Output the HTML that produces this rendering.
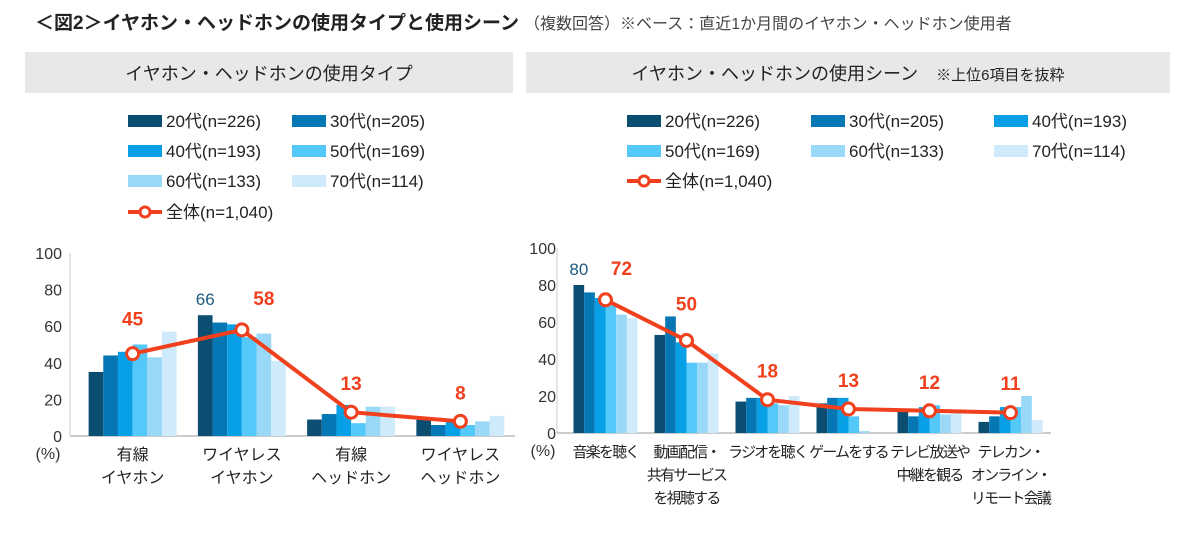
<!DOCTYPE html>
<html><head><meta charset="utf-8">
<style>
body{margin:0;background:#fff;width:1200px;height:532px;overflow:hidden;font-family:"Liberation Sans","Noto Sans CJK JP",sans-serif;}
svg text{font-family:"Liberation Sans","Noto Sans CJK JP",sans-serif;}
</style></head>
<body>
<svg id="c" width="1200" height="532" xmlns="http://www.w3.org/2000/svg">
<text x="35" y="29" font-size="19" font-weight="bold" fill="#222">＜図2＞イヤホン・ヘッドホンの使用タイプと使用シーン</text>
<text x="524" y="29" font-size="16" fill="#444">（複数回答）※ベース：直近1か月間のイヤホン・ヘッドホン使用者</text>
<rect x="25" y="52" width="488" height="41" fill="#e8e8ea"/>
<text x="269" y="80" font-size="18" text-anchor="middle" fill="#222">イヤホン・ヘッドホンの使用タイプ</text>
<rect x="526" y="52" width="644" height="41" fill="#e8e8ea"/>
<text x="848" y="80" font-size="18" text-anchor="middle" fill="#222">イヤホン・ヘッドホンの使用シーン　<tspan font-size="15">※上位6項目を抜粋</tspan></text>
<g id="g"></g>
</svg>
<script>
const ages=["20代(n=226)","30代(n=205)","40代(n=193)","50代(n=169)","60代(n=133)","70代(n=114)"];
const totalLabel="全体(n=1,040)";
const colors=["#0b4e72","#0677b5","#07a0e6","#55c8fa","#99d8f7","#cfeafa"];
const yTicks=[0,20,40,60,80,100];
const leftCats=[["有線","イヤホン"],["ワイヤレス","イヤホン"],["有線","ヘッドホン"],["ワイヤレス","ヘッドホン"]];
const leftS20=[35,66,9,9];
const leftS30=[44,62,12,6];
const leftS40=[46,61,17,8];
const leftS50=[50,54,7,6];
const leftS60=[43,56,16,8];
const leftS70=[57,41,16,11];
const leftTotal=[45,58,13,8];
const rightCats=[["音楽を聴く"],["動画配信・","共有サービス","を視聴する"],["ラジオを聴く"],["ゲームをする"],["テレビ放送や","中継を観る"],["テレカン・","オンライン・","リモート会議"]];
const rightS20=[80,53,17,16,12,6];
const rightS30=[76,63,19,19,9,9];
const rightS40=[73,49,19,19,14,14];
const rightS50=[69,38,16,9,15,14];
const rightS60=[64,38,15,1,10,20];
const rightS70=[62,43,20,0,11,7];
const rightTotal=[72,50,18,13,12,11];
const NS="http://www.w3.org/2000/svg";
const G=document.getElementById('g');
function mk(t,a,txt){const e=document.createElementNS(NS,t);for(const k in a)e.setAttribute(k,a[k]);if(txt!==undefined)e.textContent=txt;G.appendChild(e);return e;}
function chart(o){
  const y=v=>o.y0-(v/100)*(o.y0-o.y100);
  const step=(o.x1-o.x0)/o.cats.length;
  const cx=i=>o.x0+step*(i+0.5);
  yTicks.forEach(t=>{const e=mk('text',{x:o.tickX,y:y(t)+6,'font-size':16,'text-anchor':'end',fill:'#333'},t);
    
    });
  const ax=mk('line',{x1:o.x0-8,x2:o.x1,y1:o.y0,y2:o.y0,stroke:'#bbb','stroke-width':1.5});
  
  
  const ay=mk('line',{x1:o.x0-8,x2:o.x0-8,y1:o.y100,y2:o.y0,stroke:'#ccc','stroke-width':1});
  
  
  const pc=mk('text',{x:o.pctX,y:o.y0+23,'font-size':16,'text-anchor':'middle',fill:'#333'},'(%)');
  
  
  o.series.forEach((s,si)=>{s.forEach((v,i)=>{
    const r=mk('rect',{x:cx(i)-o.gw/2+si*o.gw/6,y:y(v),width:o.gw/6,height:o.y0-y(v),fill:colors[si]});
    
    
  });});
  o.cats.forEach((c,i)=>c.forEach((l,j)=>{const e=mk('text',{x:cx(i),y:o.y0+24+j*23,'font-size':o.catFs,'letter-spacing':o.catLs,'text-anchor':'middle',fill:'#222'},l);
    
    }));
  const mx=Math.max(...o.series[0]);const mi=o.series[0].indexOf(mx);
  const ml=mk('text',{x:cx(mi)-o.gw/2+o.gw/12,y:y(mx)-10,'font-size':17,'text-anchor':'middle',fill:'#1e5a80'},mx);
  
  
  const pl=mk('polyline',{points:o.total.map((v,i)=>cx(i)+','+y(v)).join(' '),fill:'none',stroke:'#f0401e','stroke-width':4});
  
  
  o.total.forEach((v,i)=>{
    const c=mk('circle',{cx:cx(i),cy:y(v),r:6,fill:'#fff',stroke:'#f0401e','stroke-width':3});
    
    
    let ty=Math.min(y(v)-22,y(Math.max(...o.series.map(s=>s[i])))-6);
    let tx=cx(i);
    if(i==mi){ty=y(mx)-10;tx=cx(i)+o.gw*0.25;}
    const t=mk('text',{x:tx,y:ty,'font-size':19,'font-weight':'bold','text-anchor':'middle',fill:'#f0401e'},v);
    
    
  });
}
chart({p:'left',x0:78,x1:515,y0:436,y100:253,gw:88,tickX:62,pctX:48,catFs:16,catLs:0,cats:leftCats,series:[leftS20,leftS30,leftS40,leftS50,leftS60,leftS70],total:leftTotal});
chart({p:'right',x0:565,x1:1051,y0:433,y100:248,gw:64,tickX:556,pctX:543,catFs:15,catLs:-1.8,cats:rightCats,series:[rightS20,rightS30,rightS40,rightS50,rightS60,rightS70],total:rightTotal});
function legend(p,pos,linePos){
  pos.forEach((q,i)=>{
    const r=mk('rect',{x:q[0],y:q[1]-6,width:34,height:12,fill:colors[i]});
    
    
    const t=mk('text',{x:q[0]+38,y:q[1]+6,'font-size':17,fill:'#222'},ages[i]);
    
    
  });
  const l=mk('line',{x1:linePos[0],x2:linePos[0]+34,y1:linePos[1],y2:linePos[1],stroke:'#f0401e','stroke-width':4});
  
  
  const c=mk('circle',{cx:linePos[0]+17,cy:linePos[1],r:5,fill:'#fff',stroke:'#f0401e','stroke-width':3});
  
  
  const t=mk('text',{x:linePos[0]+38,y:linePos[1]+6,'font-size':17,fill:'#222'},totalLabel);
  
  
}
legend('left',[[128,121],[292,121],[128,151],[292,151],[128,181],[292,181]],[128,212]);
legend('right',[[627,121],[811,121],[994,121],[627,151],[811,151],[994,151]],[627,181]);
</script>
</body></html>
